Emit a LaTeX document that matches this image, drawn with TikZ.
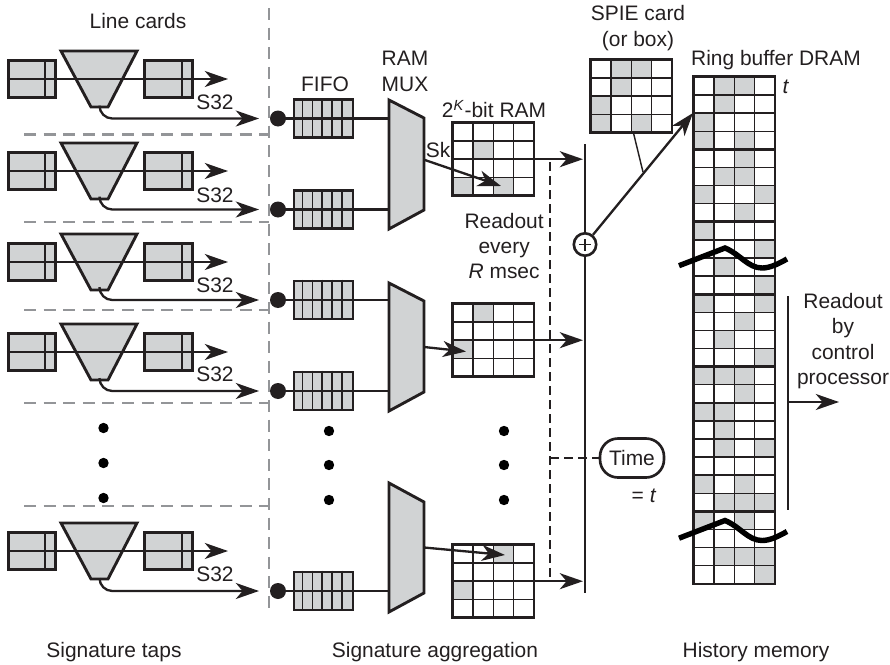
\documentclass[tikz,border=0pt]{standalone}
\usepackage{fontspec}
\setmainfont{Liberation Sans}
\usepackage{tikz}
\usetikzlibrary{arrows.meta,positioning,calc}
\definecolor{ink}{HTML}{231F20}
\definecolor{cellGrey}{HTML}{D1D3D4}
\definecolor{sepGrey}{HTML}{939598}
\tikzset{>={Stealth[length=5.8mm,width=4mm,inset=1.7mm]},
  lab/.style={font=\fontsize{14.9}{18.1}\selectfont,text=ink,align=center,inner sep=0pt},
  wire/.style={draw=ink,line width=0.58mm},
  arr/.style={wire,->},
  cardbox/.style={draw=ink,fill=cellGrey,line width=0.72mm,minimum width=11.8mm,minimum height=9.2mm,inner sep=0pt},
  fifobox/.style={draw=ink,fill=cellGrey,line width=0.66mm,minimum width=14.75mm,minimum height=9.5mm,inner sep=0pt},
  solid/.style={draw=ink,fill=cellGrey,line width=0.72mm},
  gridbox/.style={fill=white,minimum width=20.2mm,inner sep=0pt},
  gridline/.style={draw=ink,line width=0.38mm},
  gridframe/.style={draw=ink,line width=0.7mm},
  sepline/.style={draw=sepGrey,line width=0.55mm,dash pattern=on 3mm off 1.9mm},
  rdline/.style={draw=ink,line width=0.66mm,dash pattern=on 2.2mm off 1.3mm},
  tapdot/.style={circle,fill=ink,minimum size=4mm,inner sep=0pt},
  gapdot/.style={circle,fill=black,minimum size=2.6mm,inner sep=0pt},
  wave/.style={draw=black,line width=1.35mm}}
\newcommand{\cellgrid}[5]{%
  \node[gridbox,minimum height=#4*18.1*0.25mm] (#1) at (#2+40.4,#3+#4*9.05) {};
  \foreach \r/\c in {#5} \fill[cellGrey] (#2+\c*20.2,#3+\r*18.1) rectangle +(20.2,18.1);
  \foreach \c in {1,2,3} \draw[gridline] (#2+\c*20.2,#3) -- (#2+\c*20.2,#3+#4*18.1);
  \foreach \r in {1,...,#4} \draw[gridline] (#2,#3+\r*18.1) -- (#2+80.8,#3+\r*18.1);
  \draw[gridframe] (#1.north west) rectangle (#1.south east);}

\begin{document}
\begin{tikzpicture}[x=0.25mm,y=-0.25mm]
\useasboundingbox (0,0) rectangle (890,665);
\node[lab] (lineCards) at (138,21) {Line cards};
\node[lab] (fifoLab) at (325,84) {FIFO};
\node[lab] (muxLab) at (405,71.5) {RAM\\MUX};
\node[lab] (ramLab) at (494,109) {2\textsuperscript{\textit{K}}-bit RAM};
\node[lab] (spieLab) at (638,28) {SPIE card\\(or box)};
\node[lab] (ringLab) at (776,60) {Ring buffer DRAM};
\node[lab] (tLab) at (786,87) {\textit{t}};
\node[lab] (skLab) at (438,150) {Sk};
\node[lab,anchor=east] (rdLab) at (544,246) {Readout\\every\\\textit{R} msec};
\node[lab] (hostLab) at (843,341) {Readout\\by\\control\\processor};
\node[lab] (eqLab) at (644,496) {= \textit{t}};
\node[lab] (tapsLab) at (114,652) {Signature taps};
\node[lab] (aggLab) at (435,652) {Signature aggregation};
\node[lab] (histLab) at (756,652) {History memory};
\coordinate (sepT) at (269,8);
\coordinate (sepB) at (269,615);
\draw[sepline] (sepT) -- (sepB);
\foreach \y in {134.5,222,310,403,506} \draw[sepline] (24,\y) -- (sepT |- 0,\y);
\foreach \m/\ty/\by/\iy/\jy in {1/100/229/118/210,2/283/411/301/392,3/483/612/502/593}{
  \draw[solid] (389,\ty) -- (424,\iy) -- (424,\jy) -- (389,\by) -- cycle;
  \coordinate (mux\m W) at (389,\ty/2+\by/2);
  \coordinate (mux\m E) at (424,\ty/2+\by/2);
}
\foreach \n/\ry/\dy/\sy/\m in {1/79/118.5/102/1,2/171/209.5/195/1,3/262/300/285/2,4/352/391/374/2,5/551/591/574/3}{
  \node[cardbox] (inCard\n) at (32,\ry) {};
  \draw[gridline] (45,\ry-18) -- (45,\ry+18);
  \node[cardbox] (outCard\n) at (168.5,\ry) {};
  \draw[gridline] (182,\ry-18) -- (182,\ry+18);
  \draw[solid] (61,\ry-28) -- (137,\ry-28) -- (108,\ry+28) -- (91,\ry+28) -- cycle;
  \coordinate (fwd\n) at (99.5,\ry+28);
  \coordinate (pass\n) at (228,\ry);
  \coordinate (tapEnd\n) at (259,\dy);
  \draw[arr] (inCard\n.west) -- (pass\n);
  \draw[arr,rounded corners=3.2mm] (fwd\n) |- (tapEnd\n);
  \node[lab] (sLab\n) at (215,\sy) {S32};
  \node[fifobox] (fifo\n) at (323.5,\dy) {};
  \foreach \k in {1,...,5} \draw[gridline] ([xshift=\k*2.458mm]fifo\n.north west) -- ([xshift=\k*2.458mm]fifo\n.south west);
  \node[tapdot] (tap\n) at (278,\dy) {};
  \draw[wire] (tap\n.center) -- (tap\n -| mux\m W);
}
\foreach \k/\y in {1/428,2/463,3/498} \node[gapdot] (gapL\k) at (103.5,\y) {};
\foreach \k/\y in {1/431,2/465,3/500} \node[gapdot] (gapM\k) at (329,\y) {};
\foreach \k/\y in {1/431,2/465,3/500} \node[gapdot] (gapR\k) at (504,\y) {};
\cellgrid{ram1}{453}{123}{4}{1/1,3/0,3/2}
\cellgrid{ram2}{453}{304}{4}{0/1,2/0}
\cellgrid{ram3}{453}{545}{4}{0/2,2/0}
\cellgrid{spie}{591}{60}{4}{0/1,0/2,1/1,2/0,3/0,3/2}
\cellgrid{ring}{694}{77}{28}{0/1,0/2,1/1,2/0,3/0,3/2,4/2,5/1,5/2,6/0,6/3,7/2,8/0,9/3,10/1,11/3,12/0,12/3,13/2,14/1,15/3,16/0,16/1,16/2,17/2,18/0,18/1,19/1,20/1,20/3,22/0,22/2,23/1,23/2,23/3,24/0,24/2,26/1,26/2,26/3,27/3}
\foreach \r in {4,8,...,24} \draw[gridframe] (694,77+\r*18.1) -- (774.8,77+\r*18.1);
\coordinate (hit1) at (501,186);
\coordinate (hit2) at (466,351.5);
\coordinate (hit3) at (505,555);
\draw[arr] ([yshift=1.2mm]mux1E) -- (hit1);
\draw[arr] (mux2E) -- (hit2);
\draw[arr] (mux3E) -- (hit3);
\coordinate (busT) at (585,144);
\coordinate (busB) at (585,593);
\draw[wire] (busT) -- (busB);
\draw[arr,shorten >=0.5mm] (ram1.east) -- (ram1.east -| busT);
\draw[arr,shorten >=0.5mm] (ram2.east) -- (ram2.east -| busT);
\draw[arr,shorten >=0.5mm] (ram3.east) -- (ram3.east -| busT);
\coordinate (rdT) at (550,162);
\coordinate (rdB) at (550,582);
\draw[rdline] (rdT) -- (rdB);
\node[draw=ink,line width=0.66mm,fill=white,rounded corners=4.5mm,minimum width=16mm,minimum height=9.75mm,inner sep=0pt,lab] (timeBox) at (632,458) {Time};
\draw[rdline] (timeBox.west -| rdT) -- (timeBox.west);
\node[draw=ink,line width=0.66mm,fill=white,circle,minimum size=5.6mm,inner sep=0pt] (adder) at (585,244.5) {};
\draw[wire,line width=0.3mm] ([xshift=-1.5mm]adder.center) -- ([xshift=1.5mm]adder.center);
\draw[wire,line width=0.3mm] ([yshift=-1.5mm]adder.center) -- ([yshift=1.5mm]adder.center);
\coordinate (ringIn) at (693,113);
\coordinate (spieTap) at (643,172);
\draw[arr] (adder) -- (ringIn);
\draw[wire,line width=0.36mm] ([xshift=0.5mm]spie.south) -- (spieTap);
\foreach \y in {0,272.5} \draw[wave] (679,265.7+\y) -- (725,248+\y) .. controls (740,254+\y) and (748,268+\y) .. (762,268+\y) .. controls (770,268+\y) and (778,264+\y) .. (787,259+\y);
\coordinate (hostT) at (788,296);
\coordinate (hostB) at (788,510);
\coordinate (hostEnd) at (839,402);
\draw[wire] (hostT) -- (hostB);
\draw[arr] (hostEnd -| hostT) -- (hostEnd);
\end{tikzpicture}
\end{document}
